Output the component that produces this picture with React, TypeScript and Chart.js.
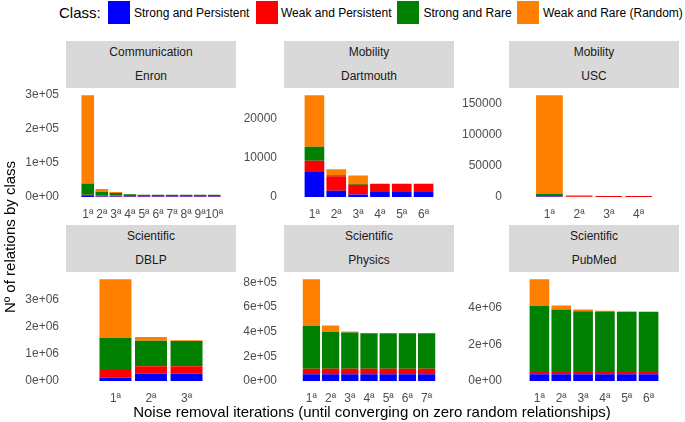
import React, { useEffect, useRef } from "react";
import { Chart, registerables } from "chart.js";

Chart.register(...registerables);

const FONT = "'Liberation Sans', Arial, Helvetica, sans-serif";

// ---------- data ----------
const classNames = ["Strong and Persistent", "Weak and Persistent", "Strong and Rare", "Weak and Rare (Random)"];
const classColors = ["#0000FF", "#FF0000", "#008000", "#FF7F00"];

const iterationLabels = ["1ª", "2ª", "3ª", "4ª", "5ª", "6ª", "7ª", "8ª", "9ª", "10ª"];

// Communication / Enron (10 iterations)
const enronStrongPersistent = [2500, 1500, 1200, 1000, 1000, 1000, 1000, 1000, 1000, 1000];
const enronWeakPersistent = [4200, 3500, 2800, 2000, 2000, 2000, 2000, 2000, 2000, 2000];
const enronStrongRare = [32300, 10400, 7600, 5000, 3500, 3500, 3500, 3500, 3500, 3500];
const enronWeakRare = [259000, 7900, 2900, 700, 200, 200, 200, 200, 200, 200];
const enronTicks = [0, 100000, 200000, 300000];
const enronTickLabels = ["0e+00", "1e+05", "2e+05", "3e+05"];

// Mobility / Dartmouth (6 iterations)
const dartStrongPersistent = [6550, 1590, 590, 1260, 1260, 1260];
const dartWeakPersistent = [2690, 3700, 2510, 2100, 2100, 2100];
const dartStrongRare = [3610, 250, 260, 0, 0, 0];
const dartWeakRare = [13150, 1510, 2100, 0, 0, 0];
const dartTicks = [0, 10000, 20000];
const dartTickLabels = ["0", "10000", "20000"];

// Mobility / USC (4 iterations)
const uscStrongPersistent = [500, 0, 0, 0];
const uscWeakPersistent = [1000, 1000, 1300, 1300];
const uscStrongRare = [3000, 0, 0, 0];
const uscWeakRare = [158500, 1700, 200, 200];
const uscTicks = [0, 50000, 100000, 150000];
const uscTickLabels = ["0", "50000", "100000", "150000"];

// Scientific / DBLP (3 iterations)
const dblpStrongPersistent = [130000, 260000, 260000];
const dblpWeakPersistent = [310000, 280000, 280000];
const dblpStrongRare = [1150000, 940000, 930000];
const dblpWeakRare = [2160000, 140000, 30000];
const dblpTicks = [0, 1000000, 2000000, 3000000];
const dblpTickLabels = ["0e+00", "1e+06", "2e+06", "3e+06"];

// Scientific / Physics (7 iterations)
const physStrongPersistent = [55000, 55000, 55000, 55000, 55000, 55000, 55000];
const physWeakPersistent = [45000, 45000, 45000, 45000, 45000, 45000, 45000];
const physStrongRare = [346000, 300000, 293000, 287000, 287000, 287000, 287000];
const physWeakRare = [381000, 51000, 10000, 1000, 1000, 1000, 1000];
const physTicks = [0, 200000, 400000, 600000, 800000];
const physTickLabels = ["0e+00", "2e+05", "4e+05", "6e+05", "8e+05"];

// Scientific / PubMed (6 iterations)
const pubStrongPersistent = [360000, 360000, 360000, 360000, 360000, 360000];
const pubWeakPersistent = [130000, 130000, 130000, 130000, 130000, 130000];
const pubStrongRare = [3600000, 3400000, 3310000, 3300000, 3280000, 3280000];
const pubWeakRare = [1450000, 220000, 90000, 30000, 20000, 0];
const pubTicks = [0, 2000000, 4000000];
const pubTickLabels = ["0e+00", "2e+06", "4e+06"];

type PanelSpec = {
  group: string;
  network: string;
  series: number[][];
  ticks: number[];
  tickLabels: string[];
  col: number;
  row: number;
};

const panels: PanelSpec[] = [
  { group: "Communication", network: "Enron", series: [enronStrongPersistent, enronWeakPersistent, enronStrongRare, enronWeakRare], ticks: enronTicks, tickLabels: enronTickLabels, col: 0, row: 0 },
  { group: "Mobility", network: "Dartmouth", series: [dartStrongPersistent, dartWeakPersistent, dartStrongRare, dartWeakRare], ticks: dartTicks, tickLabels: dartTickLabels, col: 1, row: 0 },
  { group: "Mobility", network: "USC", series: [uscStrongPersistent, uscWeakPersistent, uscStrongRare, uscWeakRare], ticks: uscTicks, tickLabels: uscTickLabels, col: 2, row: 0 },
  { group: "Scientific", network: "DBLP", series: [dblpStrongPersistent, dblpWeakPersistent, dblpStrongRare, dblpWeakRare], ticks: dblpTicks, tickLabels: dblpTickLabels, col: 0, row: 1 },
  { group: "Scientific", network: "Physics", series: [physStrongPersistent, physWeakPersistent, physStrongRare, physWeakRare], ticks: physTicks, tickLabels: physTickLabels, col: 1, row: 1 },
  { group: "Scientific", network: "PubMed", series: [pubStrongPersistent, pubWeakPersistent, pubStrongRare, pubWeakRare], ticks: pubTicks, tickLabels: pubTickLabels, col: 2, row: 1 },
];

// ---------- layout ----------
const COL_LEFT = [66, 284, 509];
const ROW_TOP = [88, 272];
const PW = 170;
const PH = 114;
const STRIP_H = 47;
const YW = 60; // space for y tick labels
const PT = 12; // canvas space above panel
const PR = 4; // canvas space right of panel
const XH = 24; // space for x tick labels

function Panel({ p }: { p: PanelSpec }) {
  const ref = useRef<HTMLCanvasElement | null>(null);
  useEffect(() => {
    if (!ref.current) return;
    const n = p.series[0].length;
    const labels = iterationLabels.slice(0, n);
    const totals = labels.map((_, i) => p.series.reduce((s, arr) => s + arr[i], 0));
    const maxT = Math.max(...totals);
    const span = n - 0.1;
    const xMin = 0.55 - 0.05 * span;
    const xMax = n + 0.45 + 0.05 * span;
    const chart = new Chart(ref.current, {
      type: "bar",
      data: {
        datasets: p.series.map((arr, k) => ({
          label: classNames[k],
          data: arr.map((v, i) => ({ x: i + 1, y: v })),
          backgroundColor: classColors[k],
          borderWidth: 0,
          categoryPercentage: 1,
          barPercentage: 0.9,
        })),
      },
      options: {
        animation: false,
        responsive: false,
        devicePixelRatio: 1,
        layout: { padding: { top: PT, right: PR, left: 0, bottom: 0 } },
        plugins: { legend: { display: false }, tooltip: { enabled: false } },
        scales: {
          x: {
            type: "linear",
            stacked: true,
            min: xMin,
            max: xMax,
            grid: { display: false, drawTicks: false },
            border: { display: false },
            ticks: {
              autoSkip: false,
              maxRotation: 0,
              padding: 5,
              color: "#4d4d4d",
              font: { family: FONT, size: 12 },
              callback: (_v: any, i: number) => labels[i],
            },
            afterBuildTicks: (axis: any) => {
              axis.ticks = labels.map((_, i) => ({ value: i + 1 }));
            },
            afterFit: (axis: any) => {
              axis.height = XH;
            },
          },
          y: {
            type: "linear",
            stacked: true,
            min: -0.05 * maxT,
            max: 1.05 * maxT,
            grid: { display: false, drawTicks: false },
            border: { display: false },
            ticks: {
              padding: 7,
              color: "#4d4d4d",
              font: { family: FONT, size: 12 },
              callback: (_v: any, i: number) => p.tickLabels[i],
            },
            afterBuildTicks: (axis: any) => {
              axis.ticks = p.ticks.map((v) => ({ value: v }));
            },
            afterFit: (axis: any) => {
              axis.width = YW;
            },
          },
        },
      } as any,
    });
    return () => chart.destroy();
  }, [p]);

  const left = COL_LEFT[p.col];
  const top = ROW_TOP[p.row];
  const w = YW + PW + PR;
  const h = PT + PH + XH;
  return (
    <>
      <canvas
        ref={ref}
        width={w}
        height={h}
        style={{ position: "absolute", left: left - YW, top: top - PT, width: w, height: h, display: "block" }}
      />
      <div
        style={{
          position: "absolute",
          left,
          top: top - STRIP_H,
          width: PW,
          height: STRIP_H,
          background: "#d9d9d9",
          color: "#1a1a1a",
          fontFamily: FONT,
          fontSize: 12,
          textAlign: "center",
        }}
      >
        <div style={{ height: 23.5, lineHeight: "23.5px" }}>{p.group}</div>
        <div style={{ height: 23.5, lineHeight: "23.5px" }}>{p.network}</div>
      </div>
    </>
  );
}

const legendKeyLeft = [108, 255.5, 397, 516.5];
const legendTextLeft = [134, 281, 423.5, 543];

export default function App() {
  return (
    <div
      style={{
        position: "absolute",
        left: 0,
        top: 0,
        width: 685,
        height: 422,
        background: "#ffffff",
        overflow: "hidden",
        fontFamily: FONT,
      }}
    >
      {/* legend */}
      <div style={{ position: "absolute", left: 59, top: 2.5, height: 20, lineHeight: "20px", fontSize: 15, color: "#000" }}>Class:</div>
      {classNames.map((name, k) => (
        <React.Fragment key={name}>
          <div style={{ position: "absolute", left: legendKeyLeft[k], top: 1, width: 22, height: 23, background: classColors[k] }} />
          <div style={{ position: "absolute", left: legendTextLeft[k], top: 2.5, height: 20, lineHeight: "20px", fontSize: 12, color: "#000", whiteSpace: "nowrap" }}>{name}</div>
        </React.Fragment>
      ))}

      {panels.map((p) => (
        <Panel key={p.network} p={p} />
      ))}

      {/* axis titles */}
      <div
        style={{
          position: "absolute",
          left: 66,
          width: 612,
          top: 402,
          height: 20,
          lineHeight: "20px",
          textAlign: "center",
          fontSize: 15,
          color: "#000",
          whiteSpace: "nowrap",
        }}
      >
        Noise removal iterations (until converging on zero random relationships)
      </div>
      <div
        style={{
          position: "absolute",
          left: 10 - 150,
          top: 237 - 10,
          width: 300,
          height: 20,
          lineHeight: "20px",
          textAlign: "center",
          fontSize: 15,
          color: "#000",
          whiteSpace: "nowrap",
          transform: "rotate(-90deg)",
          transformOrigin: "150px 10px",
        }}
      >
        Nº of relations by class
      </div>
    </div>
  );
}
